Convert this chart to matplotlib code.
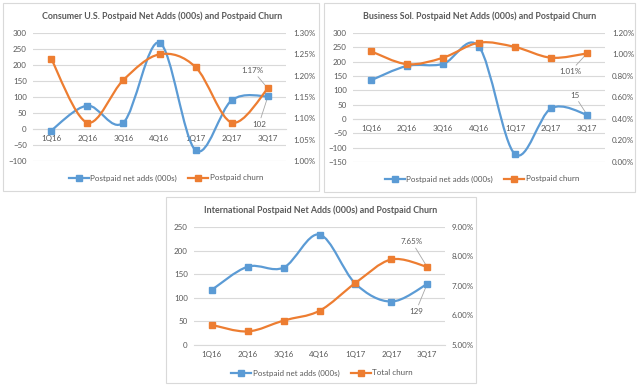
import numpy as np
import matplotlib
matplotlib.use("Agg")
import matplotlib.pyplot as plt
from matplotlib.path import Path
from matplotlib.patches import PathPatch, Rectangle
from matplotlib.lines import Line2D
from matplotlib.ticker import MultipleLocator, FuncFormatter

plt.rcParams['font.family'] = ['Lato', 'DejaVu Sans']

quarters = ["1Q16", "2Q16", "3Q16", "4Q16", "1Q17", "2Q17", "3Q17"]

consumer_adds = [-5, 73, 20, 270, -67, 90, 102]
consumer_churn = [1.24, 1.09, 1.19, 1.25, 1.22, 1.09, 1.17]

business_adds = [135, 185, 192, 252, -123, 37, 15]
business_churn = [1.03, 0.91, 0.97, 1.11, 1.07, 0.97, 1.01]

intl_adds = [117, 166, 164, 234, 130, 92, 129]
intl_churn = [5.68, 5.46, 5.83, 6.16, 7.10, 7.90, 7.65]

BLUE = "#5B9BD5"
ORANGE = "#ED7D31"
TXT = "#595959"
GRID = "#D9D9D9"
W, H = 640, 391
FS = 5.8


def smooth_path(x, y):
    # excel style smoothed line: cubic bezier through each point
    x = np.asarray(x, float)
    y = np.asarray(y, float)
    px = np.concatenate([[x[0]], x, [x[-1]]])
    py = np.concatenate([[y[0]], y, [y[-1]]])
    verts = [(x[0], y[0])]
    codes = [Path.MOVETO]
    for i in range(1, len(x)):
        c1 = (px[i] + (px[i + 1] - px[i - 1]) / 6, py[i] + (py[i + 1] - py[i - 1]) / 6)
        c2 = (px[i + 1] - (px[i + 2] - px[i]) / 6, py[i + 1] - (py[i + 2] - py[i]) / 6)
        verts += [c1, c2, (px[i + 1], py[i + 1])]
        codes += [Path.CURVE4] * 3
    return Path(verts, codes)


def draw_series(ax, y, color):
    x = np.arange(len(y))
    ax.add_patch(PathPatch(smooth_path(x, y), fill=False, edgecolor=color,
                           lw=1.6, capstyle='round', zorder=3))
    ax.plot(x, y, 's', color=color, ms=3.8, zorder=4)


def px_box(l, t, r, b):
    return [l / W, 1 - b / H, (r - l) / W, (b - t) / H]


fig = plt.figure(figsize=(6.4, 3.91), dpi=100)


def panel(border, plot, title, title_xy, legend_xy, adds, churn, ylim, ystep,
          rlim, rstep, churn_name, labels):
    l, t, r, b = border
    fig.patches.append(Rectangle((l / W, 1 - b / H), (r - l) / W, (b - t) / H,
                                 transform=fig.transFigure, fill=False,
                                 edgecolor="#D9D9D9", lw=0.8))
    ax = fig.add_axes(px_box(*plot))
    ax2 = ax.twinx()
    ax.set_xlim(-0.5, 6.5)
    ax.set_ylim(*ylim)
    ax2.set_ylim(*rlim)
    ax.yaxis.set_major_locator(MultipleLocator(ystep))
    ax2.yaxis.set_major_locator(MultipleLocator(rstep))
    ax2.yaxis.set_major_formatter(FuncFormatter(lambda v, p: "%.2f%%" % v))
    ax.grid(axis='y', color=GRID, lw=0.8)
    ax.set_axisbelow(True)
    for a in (ax, ax2):
        for s in a.spines.values():
            s.set_visible(False)
        a.tick_params(length=0, labelsize=FS, colors=TXT)
    ax.spines['bottom'].set_visible(True)
    ax.spines['bottom'].set_position(('data', 0))
    ax.spines['bottom'].set_color(GRID)
    ax.spines['bottom'].set_linewidth(0.8)
    ax.set_xticks(range(len(quarters)))
    ax.set_xticklabels(quarters)
    ax.tick_params(axis='x', pad=4.5)
    ax.tick_params(axis='y', pad=4.5)
    ax2.tick_params(axis='y', pad=5)
    ax2.set_xlim(-0.5, 6.5)

    draw_series(ax, adds, BLUE)
    draw_series(ax2, churn, ORANGE)

    fig.text(title_xy[0] / W, 1 - title_xy[1] / H, title, ha='center', va='center',
             fontsize=6.4, fontweight='bold', color=TXT)

    handles = [Line2D([], [], color=BLUE, lw=1.6, marker='s', ms=3.8),
               Line2D([], [], color=ORANGE, lw=1.6, marker='s', ms=3.8)]
    fig.legend(handles, ["Postpaid net adds (000s)", churn_name], loc='center',
               bbox_to_anchor=(legend_xy[0] / W, 1 - legend_xy[1] / H), ncol=2,
               frameon=False, fontsize=FS, labelcolor=TXT, handlelength=2.5,
               handletextpad=0.2, columnspacing=1.4)

    # data labels for the last point
    (t1, off1), (t2, off2) = labels
    ann = dict(textcoords='offset points', fontsize=FS, color=TXT, ha='center',
               va='center',
               arrowprops=dict(arrowstyle='-', color="#A6A6A6", lw=0.6,
                               shrinkA=0, shrinkB=2))
    ax2.annotate(t1, xy=(6, churn[-1]), xytext=off1, **ann)
    ax.annotate(t2, xy=(6, adds[-1]), xytext=off2, **ann)


panel((3, 3, 319, 191), (33, 33, 286, 161),
      "Consumer U.S. Postpaid Net Adds (000s) and Postpaid Churn", (162, 16), (166, 178),
      consumer_adds, consumer_churn, (-100, 300), 50, (1.00, 1.30), 0.05,
      "Postpaid churn",
      [("1.17%", (-11, 13)), ("102", (-6.5, -20))])

panel((324, 3, 635, 192), (353, 33, 605, 162),
      "Business Sol. Postpaid Net Adds (000s) and Postpaid Churn", (480, 16), (482, 179),
      business_adds, business_churn, (-150, 300), 50, (0.0, 1.2), 0.2,
      "Postpaid churn",
      [("1.01%", (-12, -13)), ("15", (-9, 14))])

panel((166, 197, 476, 383), (194, 227, 445, 345),
      "International Postpaid Net Adds (000s) and Postpaid Churn", (321, 210), (322, 373),
      intl_adds, intl_churn, (0, 250), 50, (5.0, 9.0), 1.0,
      "Total churn",
      [("7.65%", (-11, 18)), ("129", (-8, -19.5))])

fig.savefig("out.png", dpi=100, facecolor="white")
